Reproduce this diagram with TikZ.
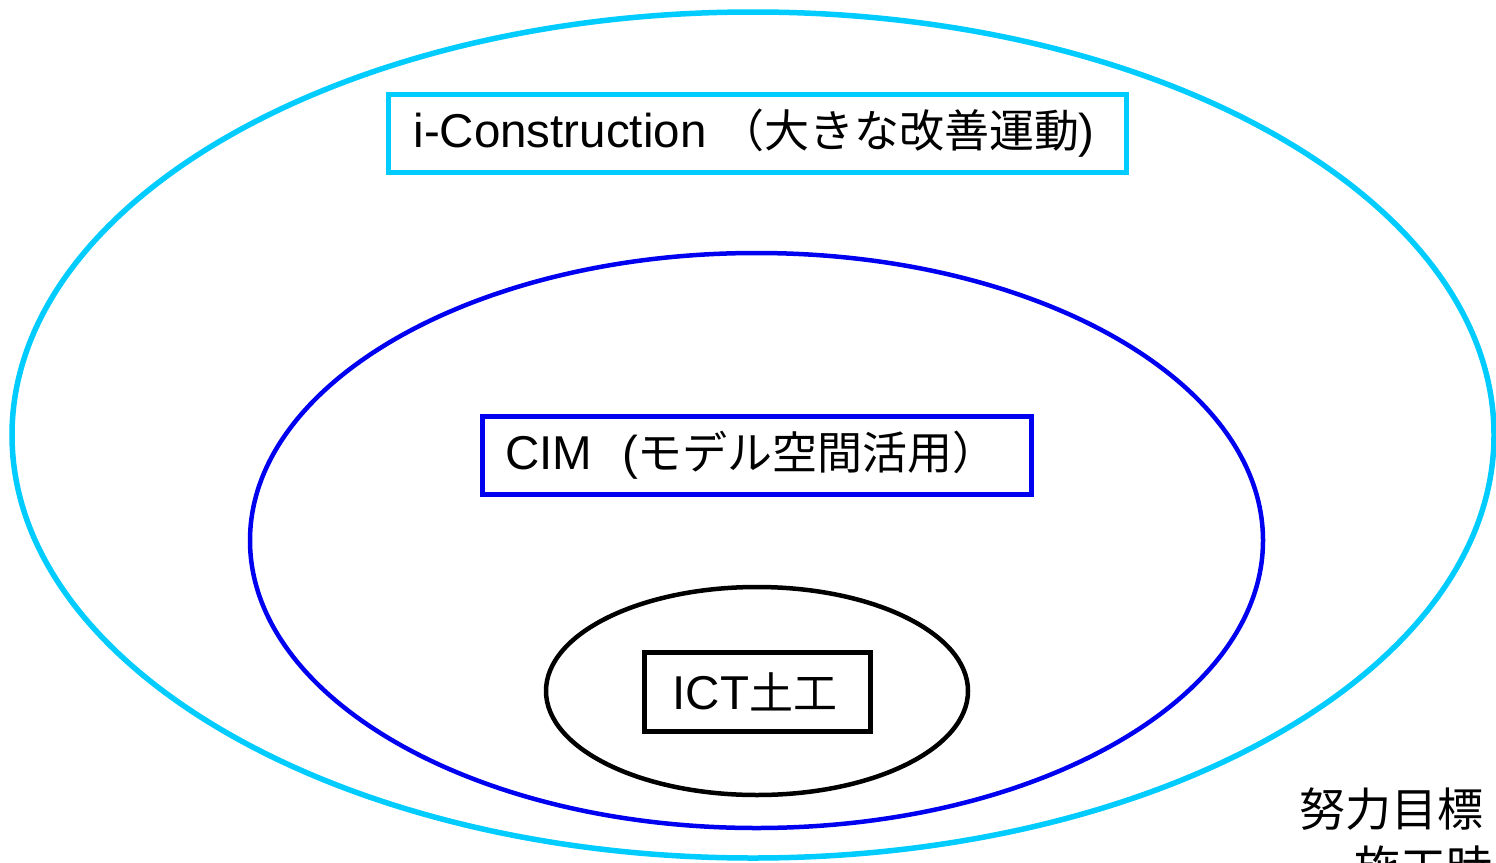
\documentclass[tikz,border=0pt]{standalone}
\usepackage{fontspec}
\setmainfont{Liberation Sans}
\newfontfamily\cjk{Noto Sans CJK JP}
\definecolor{cyanc}{RGB}{0,204,255}
\definecolor{bluec}{RGB}{0,0,240}
\newcommand{\lowtext}[1]{\raisebox{-3pt}{#1}}
\begin{document}
\begin{tikzpicture}[x=1pt,y=-1pt,
  ring/.style={line width=4.5pt},
  labelbox/.style={draw, line width=5pt, fill=white, inner sep=0pt,
    font=\fontsize{47.5}{50}\selectfont},
  goaltext/.style={inner sep=0pt, font=\cjk\fontsize{46}{50}\selectfont}]
\useasboundingbox (0,0) rectangle (1496,862);
\clip (0,0) rectangle (1496,862);
\fill[white] (0,0) rectangle (1496,862);
\draw[ring, draw=cyanc, line width=5.5pt] (753,435) ellipse [x radius=741, y radius=423];
\draw[ring, draw=bluec] (756.5,540.5) ellipse [x radius=506.5, y radius=287.5];
\draw[ring, draw=black] (757,691) ellipse [x radius=211, y radius=104];
\node[labelbox, draw=cyanc, minimum width=738, minimum height=78] (icon) at (757,133)
  {\lowtext{\kern-6pt i-Construction {\cjk\fontsize{45}{50}\selectfont （大きな改善運動}\kern-1pt)}};
\node[labelbox, draw=bluec, minimum width=549, minimum height=78] (cim) at (756.5,455)
  {\lowtext{\kern-10pt CIM\hspace{30pt}({\cjk\fontsize{45}{50}\selectfont モデル空間活用）}}};
\node[labelbox, draw=black, minimum width=226, minimum height=79] (ict) at (757,691.5)
  {\lowtext{\kern-4pt ICT{\cjk\fontsize{44}{50}\selectfont 土工}}};
\node[goaltext, anchor=base west] (goal1) at (1299,826) {努力目標};
\node[goaltext, anchor=base west] (goal2) at (1354,884) {施工時};
\end{tikzpicture}
\end{document}
